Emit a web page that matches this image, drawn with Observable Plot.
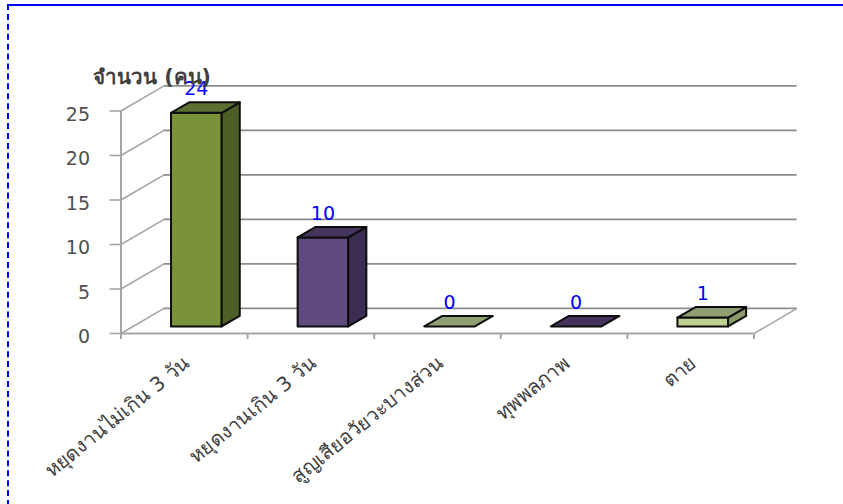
<!DOCTYPE html>
<html><head><meta charset="utf-8">
<script src="https://cdn.jsdelivr.net/npm/d3@7"></script>
<script src="https://cdn.jsdelivr.net/npm/@observablehq/plot@0.6"></script>
<style>
html,body{margin:0;padding:0;background:#fff;overflow:hidden}
#frame{position:absolute;left:7px;top:4px;right:0;height:500px;border-top:2px solid #0000ff;border-left:2px dashed #0000ff;pointer-events:none}
svg{position:absolute;left:0;top:0;font-family:"DejaVu Sans",sans-serif}
</style></head><body>
<div id="chart"></div><div id="frame"></div>
<script>
const categories = ["หยุดงานไม่เกิน 3 วัน","หยุดงานเกิน 3 วัน","สูญเสียอวัยวะบางส่วน","ทุพพลภาพ","ตาย"];
const values = [24,10,0,0,1];
const frontColors = ["#7a933b","#5f4a7d","#c0d194","#46335c","#c0d194"];
const topColors = ["#5c7030","#46355f","#8f9f72","#46335c","#8f9f72"];
const sideColors = ["#4d5f28","#3c2e52","#8a9a68","#46335c","#8a9a68"];
const yTicks = [0,5,10,15,20,25];
const xTicks = [0,1,2,3,4,5];
const yTitle = "จำนวน (คน)";

// oblique projection: depth d (0 front, 1 back wall) shifts in data units
const DX = 0.34, DY = 2.82;
const P = (c,v,d=0) => ({x:c+d*DX, y:v+d*DY});
const barW = 0.2, barD0 = 0.28, barD1 = 0.70;

const faces = [];
values.forEach((v,i)=>{
  const c = i+0.5, l=c-barW, r=c+barW;
  const add = (name,fill,pts)=>pts.forEach(p=>faces.push({...p,id:i+name,fill}));
  if (v>0) {
    add("f",frontColors[i],[P(l,0,barD0),P(r,0,barD0),P(r,v,barD0),P(l,v,barD0)]);
    add("s",sideColors[i],[P(r,0,barD0),P(r,0,barD1),P(r,v,barD1),P(r,v,barD0)]);
  }
  add("t",topColors[i],[P(l,v,barD0),P(r,v,barD0),P(r,v,barD1),P(l,v,barD1)]);
});

const gray="#a6a6a6", wall="#8c8c8c";
const chart = Plot.plot({
  width:843,height:504,
  marginLeft:120.5,marginRight:89.5,marginTop:110.5,marginBottom:171,
  x:{type:"linear",domain:[0,5],axis:null},
  y:{type:"linear",domain:[0,25],axis:null},
  marks:[
    // back wall gridlines
    Plot.ruleY(yTicks,{x1:DX,x2:5+DX,y:d=>d+DY,stroke:wall,strokeWidth:1.7}),
    // side wall diagonals
    Plot.link(yTicks,{x1:0,y1:d=>d,x2:DX,y2:d=>d+DY,stroke:gray,strokeWidth:1.6}),
    // floor right edge
    Plot.link([0],{x1:5,y1:0,x2:5+DX,y2:DY,stroke:gray,strokeWidth:1.6}),
    // axes
    Plot.ruleX([0],{y1:0,y2:25,stroke:gray,strokeWidth:2}),
    Plot.ruleY([0],{x1:0,x2:5,stroke:gray,strokeWidth:2}),
    Plot.axisY({ticks:yTicks,tickSize:11,stroke:gray,strokeWidth:1.6,tickFormat:()=>"",label:null}),
    Plot.text(yTicks,{x:0,y:d=>d,dx:-31,dy:3.5,text:d=>String(d),textAnchor:"end",fill:"#505050",fontSize:19}),
    Plot.axisX({ticks:xTicks,tickSize:6,stroke:gray,strokeWidth:2,tickFormat:()=>"",label:null}),
    // bars
    Plot.line(faces,{x:"x",y:"y",z:"id",fill:"fill",stroke:"#0d0d0d",strokeWidth:2,curve:"linear-closed",strokeLinejoin:"round"}),
    // value labels
    Plot.text(values,{x:(d,i)=>i+0.5+barD0*DX,y:d=>d+barD1*DY,dy:-13,text:d=>String(d),fill:"#0000ff",fontSize:19}),
    // category labels
    Plot.text(categories,{x:(d,i)=>i+0.5,y:0,dx:3,dy:27,text:d=>d,rotate:-39,textAnchor:"end",fill:"#404040",fontSize:20}),
    // axis title
    Plot.text([yTitle],{x:0,y:25,dx:-28,dy:-34,text:d=>d,textAnchor:"start",fontWeight:"bold",fill:"#404040",fontSize:20.5})
  ]
});
document.getElementById("chart").appendChild(chart);
</script>
</body></html>
